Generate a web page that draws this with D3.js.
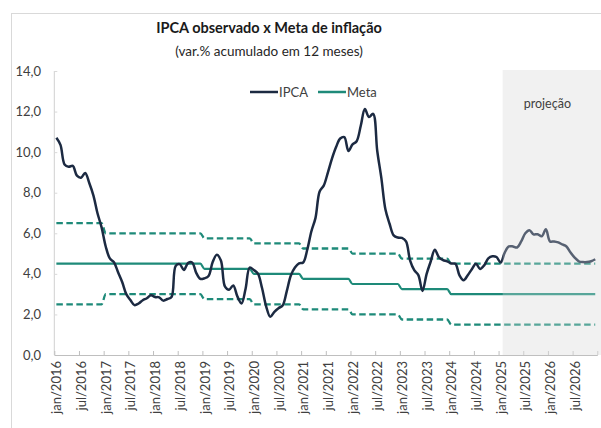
<!DOCTYPE html>
<html>
<head>
<meta charset="utf-8">
<script src="https://cdn.jsdelivr.net/npm/d3@7"></script>
<style>
  body { margin: 0; background: #fff; }
  svg { display: block; }
  text { font-family: Lato, "Noto Sans", sans-serif; }
</style>
</head>
<body>
<svg id="chart" width="601" height="428"></svg>
<script>
"use strict";

// anos e metas de inflação (centro e tolerância)
const anos = [2016, 2017, 2018, 2019, 2020, 2021, 2022, 2023, 2024, 2025, 2026];
const metaCentro = [4.5, 4.5, 4.5, 4.25, 4.0, 3.75, 3.5, 3.25, 3.0, 3.0, 3.0];
const metaTolerancia = [2.0, 1.5, 1.5, 1.5, 1.5, 1.5, 1.5, 1.5, 1.5, 1.5, 1.5];
const mesesAbrev = ["jan", "fev", "mar", "abr", "mai", "jun", "jul", "ago", "set", "out", "nov", "dez"];

// IPCA acumulado em 12 meses, jan/2016 a jan/2025
const ipcaObservado = [
  10.71, 10.36, 9.39, 9.28, 9.32, 8.84, 8.74, 8.97, 8.48, 7.87, 6.99, 6.29,
  5.35, 4.76, 4.57, 4.08, 3.60, 3.00, 2.71, 2.46, 2.54, 2.70, 2.80, 2.95,
  2.86, 2.84, 2.68, 2.76, 2.86, 4.39, 4.48, 4.19, 4.53, 4.56, 4.05, 3.75,
  3.78, 3.89, 4.58, 4.94, 4.66, 3.37, 3.22, 3.43, 2.89, 2.54, 3.27, 4.31,
  4.19, 4.01, 3.30, 2.40, 1.88, 2.13, 2.31, 2.44, 3.14, 3.92, 4.31, 4.52,
  4.56, 5.20, 6.10, 6.76, 8.06, 8.35, 8.99, 9.68, 10.25, 10.67, 10.74, 10.06,
  10.38, 10.54, 11.30, 12.13, 11.73, 11.89, 10.07, 8.73, 7.17, 6.47, 5.90, 5.79,
  5.77, 5.60, 4.65, 4.18, 3.94, 3.16, 3.99, 4.61, 5.19, 4.82, 4.68, 4.62,
  4.51, 4.50, 3.93, 3.69, 3.93, 4.23, 4.50, 4.24, 4.42, 4.76, 4.87, 4.83,
  4.56
];

// projeção, fev/2025 a dez/2026
const ipcaProjecao = [
  5.05, 5.35, 5.35, 5.30, 5.60, 6.00, 6.15, 5.95, 5.95, 5.85, 6.20,
  5.60, 5.60, 5.55, 5.45, 5.35, 5.05, 4.80, 4.62, 4.58, 4.58, 4.62, 4.72
];

const yTicks = [0, 2, 4, 6, 8, 10, 12, 14];

// categorias mensais
const categorias = [];
anos.forEach(a => mesesAbrev.forEach(m => categorias.push(m + "/" + a)));
const nCat = categorias.length;

const svg = d3.select("#chart");

const navy = "#1c2a42";
const teal = "#1e8a79";
const textColor = "#404040";

// scales (category axis: index -> band)
const x = d3.scaleLinear().domain([0, nCat]).range([54.3, 597.3]);
const y = d3.scaleLinear().domain([0, 14]).range([355, 71]);
const cx = i => x(i + 0.5);

// outer frame
svg.append("rect")
    .attr("x", 11.5).attr("y", 13.5)
    .attr("width", 700).attr("height", 500)
    .attr("fill", "none").attr("stroke", "#d9d9d9");

// projection shading (behind)
const iProj = ipcaObservado.length;
svg.append("rect")
    .attr("x", x(iProj)).attr("y", 70)
    .attr("width", 601 - x(iProj)).attr("height", y(0) - 70)
    .attr("fill", "#f2f2f2");

// titles
svg.append("text")
    .attr("x", 269).attr("y", 33)
    .attr("text-anchor", "middle")
    .attr("font-size", 14.5).attr("font-weight", "bold").attr("fill", "#1a1a1a")
    .text("IPCA observado x Meta de inflação");
svg.append("text")
    .attr("x", 269).attr("y", 56)
    .attr("text-anchor", "middle")
    .attr("font-size", 13.5).attr("fill", "#262626")
    .text("(var.% acumulado em 12 meses)");

// y axis
const yAxis = svg.append("g")
    .attr("transform", `translate(${x(0)},0)`)
    .call(d3.axisRight(y).tickValues(yTicks).tickSize(3).tickFormat(""));
yAxis.select(".domain").attr("stroke", "#d0d0d0").attr("d", `M0,${y(14)}V${y(0)}`);
yAxis.selectAll(".tick line").attr("stroke", "#d9d9d9");

svg.append("g").selectAll("text")
    .data(yTicks)
    .join("text")
    .attr("x", 41).attr("y", d => y(d))
    .attr("dy", "0.35em")
    .attr("text-anchor", "end")
    .attr("font-size", 13).attr("fill", textColor)
    .text(d => d3.format(".1f")(d).replace(".", ","));

// x axis: ticks between categories every 6 months, pointing inward
const xTickIdx = d3.range(0, nCat + 1, 6);
const xAxis = svg.append("g")
    .attr("transform", `translate(0,${y(0)})`)
    .call(d3.axisTop(x).tickValues(xTickIdx).tickSize(4).tickSizeOuter(0).tickFormat(""));
xAxis.select(".domain").attr("stroke", "#bfbfbf");
xAxis.selectAll(".tick line").attr("stroke", "#bfbfbf");

svg.append("g").selectAll("text")
    .data(d3.range(0, nCat, 6))
    .join("text")
    .attr("transform", i => `translate(${cx(i) + 0.5},${y(0) + 6}) rotate(-90)`)
    .attr("dy", "0.35em")
    .attr("text-anchor", "end")
    .attr("font-size", 13).attr("fill", textColor)
    .text(i => categorias[i]);

// meta lines (monthly steps)
const metaMensal = [];
anos.forEach((a, k) => mesesAbrev.forEach(() => metaMensal.push({
  centro: metaCentro[k],
  sup: metaCentro[k] + metaTolerancia[k],
  inf: metaCentro[k] - metaTolerancia[k]
})));

const metaLine = key => d3.line()
    .x((d, i) => cx(i))
    .y(d => y(d[key]))
    .curve(d3.curveMonotoneX);

["sup", "inf"].forEach(k => {
  svg.append("path")
      .datum(metaMensal)
      .attr("d", metaLine(k))
      .attr("fill", "none").attr("stroke", teal)
      .attr("stroke-width", 2.3).attr("stroke-dasharray", "6.5,3.5");
});
svg.append("path")
    .datum(metaMensal)
    .attr("d", metaLine("centro"))
    .attr("fill", "none").attr("stroke", teal)
    .attr("stroke-width", 2.2);

// IPCA line (observed + projection)
const ipca = ipcaObservado.concat(ipcaProjecao).map((v, i) => ({ i: i, v: v }));
const ipcaLine = d3.line()
    .x(d => cx(d.i))
    .y(d => y(d.v))
    .curve(d3.curveCatmullRom.alpha(0.5));

svg.append("path")
    .datum(ipca)
    .attr("d", ipcaLine)
    .attr("fill", "none").attr("stroke", navy)
    .attr("stroke-width", 2.5).attr("stroke-linejoin", "round");

// light veil over the projection period
svg.append("rect")
    .attr("x", x(iProj)).attr("y", 70)
    .attr("width", 601 - x(iProj)).attr("height", y(0) - 70)
    .attr("fill", "#f2f2f2").attr("opacity", 0.28);

svg.append("text")
    .attr("x", (x(iProj) + 592) / 2).attr("y", 108)
    .attr("text-anchor", "middle")
    .attr("font-size", 12.5).attr("fill", textColor)
    .text("projeção");

// legend
const legend = svg.append("g").attr("transform", "translate(0,92)");
[{ label: "IPCA", color: navy, x0: 250 }, { label: "Meta", color: teal, x0: 318 }].forEach(d => {
  legend.append("line")
      .attr("x1", d.x0).attr("x2", d.x0 + 28)
      .attr("stroke", d.color).attr("stroke-width", 2.5);
  legend.append("text")
      .attr("x", d.x0 + 29).attr("dy", "0.35em")
      .attr("font-size", 13).attr("fill", textColor)
      .text(d.label);
});
</script>
</body>
</html>
